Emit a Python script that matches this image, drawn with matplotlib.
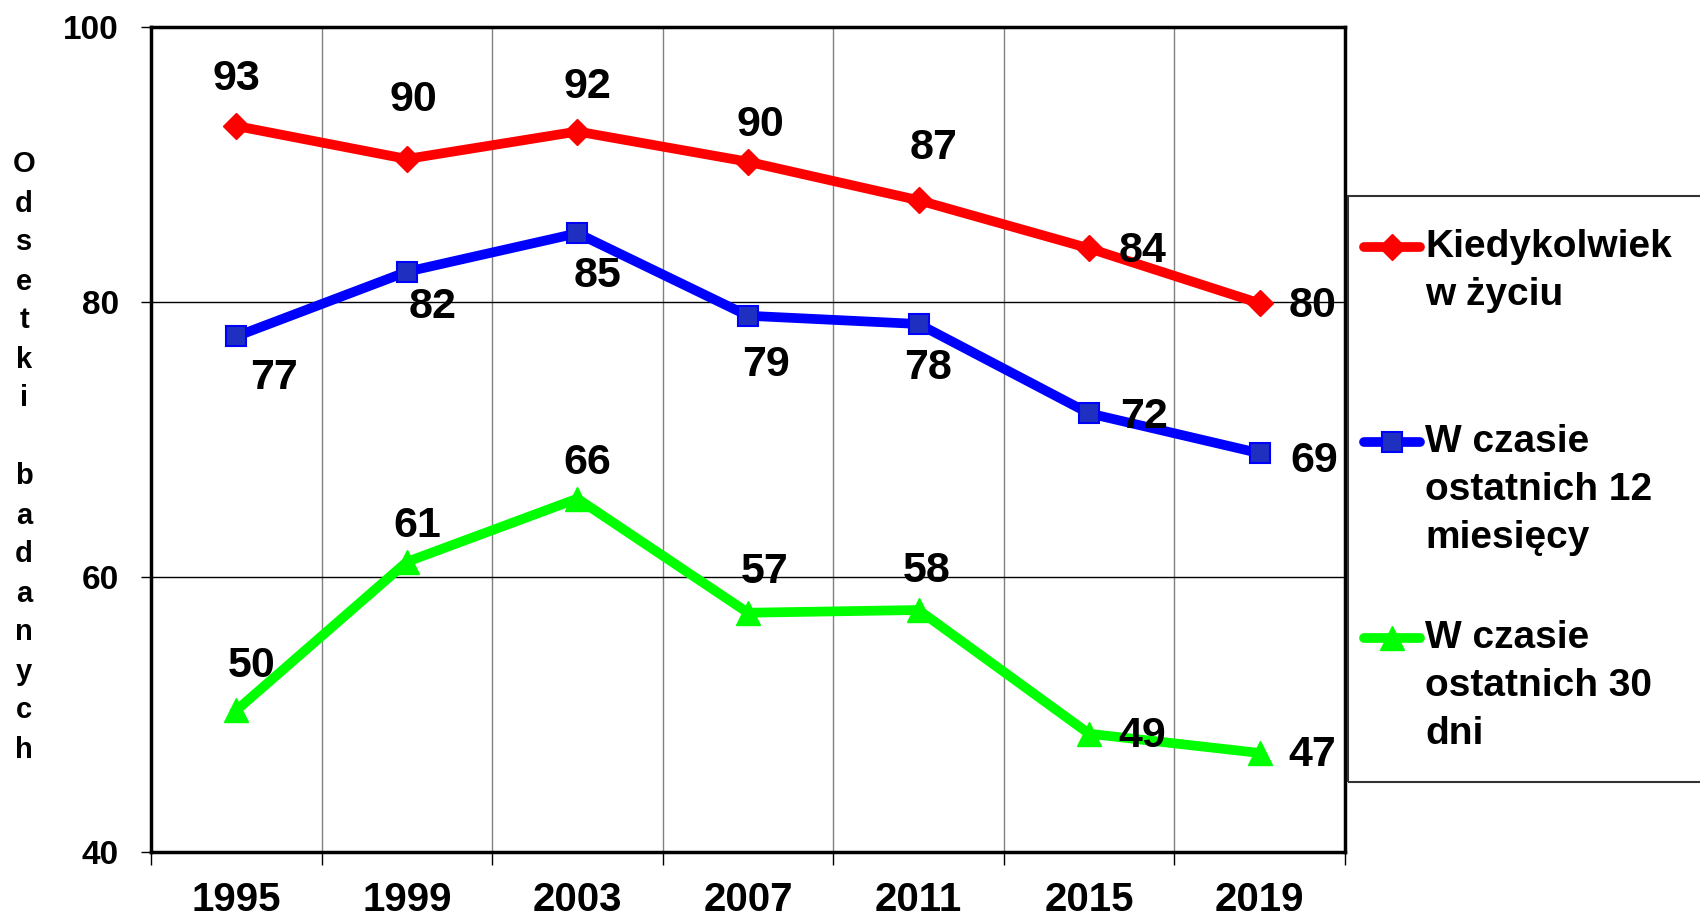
import matplotlib
matplotlib.use("Agg")
import matplotlib.pyplot as plt
from matplotlib.lines import Line2D
from matplotlib.patches import Rectangle

plt.rcParams["font.family"] = ["Liberation Sans", "DejaVu Sans"]
plt.rcParams["font.weight"] = "bold"

# data
years = ["1995", "1999", "2003", "2007", "2011", "2015", "2019"]
ever = [92.8, 90.4, 92.4, 90.2, 87.4, 83.9, 79.9]
last12 = [77.5, 82.2, 85.0, 79.0, 78.4, 71.9, 69.0]
last30 = [50.3, 61.1, 65.7, 57.4, 57.6, 48.6, 47.2]
ever_labels = [93, 90, 92, 90, 87, 84, 80]
last12_labels = [77, 82, 85, 79, 78, 72, 69]
last30_labels = [50, 61, 66, 57, 58, 49, 47]
legend_labels = ["Kiedykolwiek\nw życiu",
                 "W czasie\nostatnich 12\nmiesięcy",
                 "W czasie\nostatnich 30\ndni"]
ylabel = "Odsetki badanych"

# label offsets (pixels) for each point
ever_off = [(0, 47), (7, 59), (10, 44), (12, 37), (15, 52), (53, -3), (53, -3)]
last12_off = [(38, -42), (26, -35), (20, -43), (18, -49), (9, -44), (55, -4), (55, -8)]
last30_off = [(15, 44), (10, 36), (10, 36), (17, 41), (8, 39), (53, -2), (53, -2)]

W, H = 1700, 917
fig = plt.figure(figsize=(W / 100, H / 100), dpi=100)
ax = fig.add_axes([151 / W, 1 - 852 / H, (1345 - 151) / W, (852 - 27) / H])

styles = [
    (ever, ever_labels, ever_off, dict(color="#FF0000", marker="D", ms=13,
                                       mfc="#FF0000", mec="#FF0000")),
    (last12, last12_labels, last12_off, dict(color="#0000FF", marker="s", ms=15,
                                             mfc="#1F2FBF", mec="#0000FF", mew=1.5)),
    (last30, last30_labels, last30_off, dict(color="#00FF00", marker="^", ms=17,
                                             mfc="#00FF00", mec="#00FF00")),
]

x = list(range(len(years)))
for vals, labs, offs, st in styles:
    ax.plot(x, vals, lw=7, solid_joinstyle="miter", zorder=3, **st)
    for xi, v, lab, off in zip(x, vals, labs, offs):
        ax.annotate(str(lab), (xi, v), xytext=off, textcoords="offset pixels",
                    ha="center", va="center", fontsize=31, fontweight="bold",
                    zorder=4)

ax.set_xlim(-0.5, len(years) - 0.5)
ax.set_ylim(40, 100)
ax.set_yticks([40, 60, 80, 100])
ax.set_xticks(x)
ax.set_xticklabels(years)
ax.set_xticks([i - 0.5 for i in range(len(years) + 1)], minor=True)
ax.tick_params(axis="x", which="major", length=0, pad=21, labelsize=29)
ax.tick_params(axis="x", which="minor", length=9, width=1, direction="out")
ax.tick_params(axis="y", length=7, width=1, direction="out", pad=16, labelsize=24)
ax.grid(axis="y", color="black", lw=1)
ax.grid(axis="x", which="minor", color="#808080", lw=1)
ax.set_axisbelow(True)
for s in ax.spines.values():
    s.set_linewidth(2.5)
    s.set_color("black")

# stacked vertical y label
fig.text(24 / W, 1 - 457 / H, "\n".join(ylabel), ha="center", va="center",
         fontsize=21, fontweight="bold", linespacing=1.5)

# legend box
fig.add_artist(Rectangle((1348 / W, 1 - 782 / H), 0.3, (782 - 196) / H,
                         transform=fig.transFigure, fill=False, ec="#333333",
                         lw=1.5))
leg_y = [247, 442, 638]
txt_top = [229, 424, 620]
for (vals, labs, offs, st), ly, tt, lab in zip(styles, leg_y, txt_top, legend_labels):
    yy = 1 - ly / H
    ln = Line2D([1364 / W, 1392 / W, 1420 / W], [yy, yy, yy],
                transform=fig.transFigure, lw=7, solid_capstyle="round",
                markevery=[1], **st)
    fig.add_artist(ln)
    fig.text(1425 / W, 1 - tt / H, lab, ha="left", va="top",
             fontsize=28, fontweight="bold", linespacing=1.42)

fig.savefig("out.png", dpi=100, facecolor="white")
